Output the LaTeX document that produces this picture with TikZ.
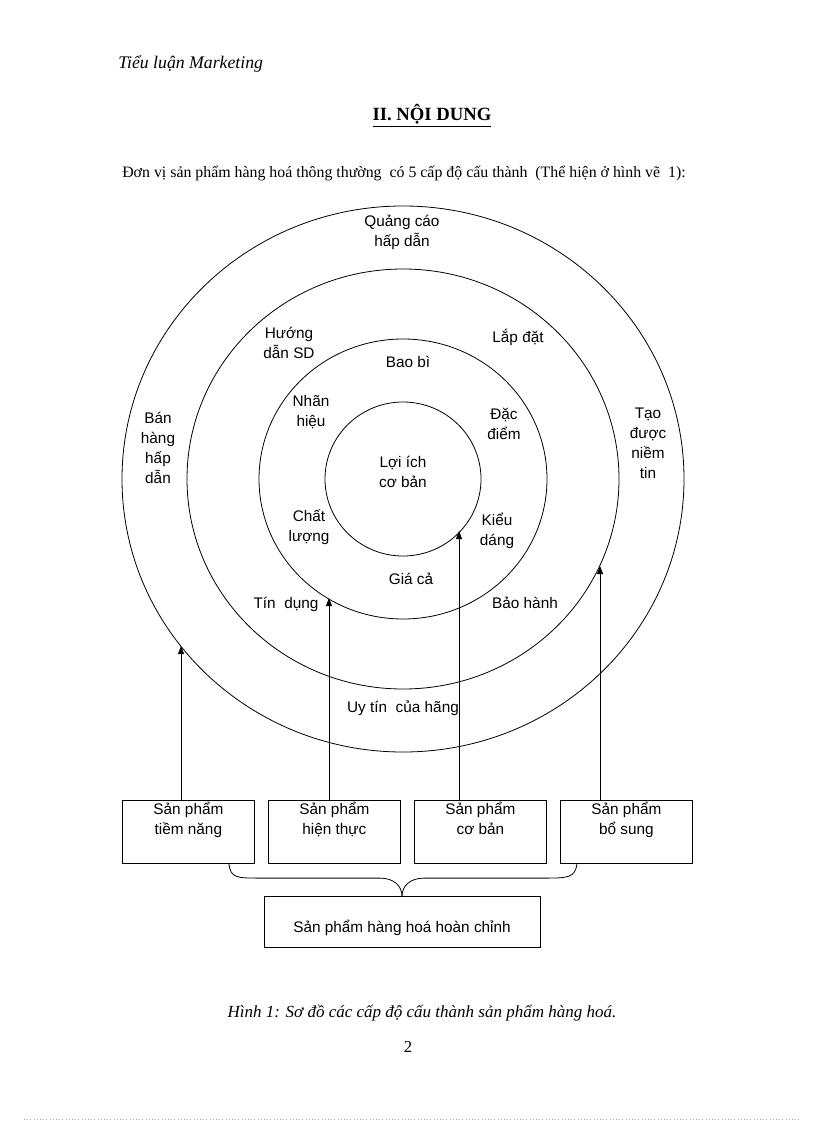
\documentclass[tikz,border=0pt]{standalone}
\usepackage{fontspec}
\setmainfont{Liberation Serif}
\newfontfamily\arialfont{Liberation Sans}
\usetikzlibrary{arrows.meta,calc}
\newcommand\boxtext[1]{\parbox[t][47.25pt][t]{99pt}{\centering\vspace*{1.5pt}#1}}

\tikzset{
	ring/.style={line width=0.6pt},
	lbl/.style={font=\arialfont\fontsize{11.5}{15}\selectfont, align=center, inner sep=0pt},
	pbox/.style={draw, line width=0.6pt, inner sep=0pt, anchor=north west, font=\arialfont\fontsize{11.5}{15}\selectfont},
	up/.style={-{Triangle[length=6pt,width=4.5pt]}, line width=0.6pt},
}

\begin{document}
\begin{tikzpicture}[x=0.75pt,y=-0.75pt]
				\useasboundingbox (0,0) rectangle (816,1123);
				
				\node[anchor=base west, inner sep=0pt, font=\fontsize{13.3}{15}\selectfont\itshape] (header) at (118,69) {Tiểu luận Marketing};
				\node[anchor=base, inner sep=0pt, font=\fontsize{14}{16}\selectfont\bfseries] (title) at (432,121) {\underline{II. NỘI DUNG}};
				\node[anchor=base west, inner sep=0pt, font=\fontsize{11.9}{14}\selectfont] (intro) at (122,178) {Đơn vị sản phẩm hàng hoá thông thường\ \ có 5 cấp độ cấu thành\ \ (Thể hiện ở hình vẽ\ \ 1):};
				
				% the five rings
				\coordinate (o) at (403,479);
				\draw[ring] (o) ellipse [x radius=281, y radius=273];
				\draw[ring] (o) ellipse [x radius=216, y radius=210];
				\draw[ring] (o) ellipse [x radius=144, y radius=140];
				\draw[ring] (o) ellipse [x radius=78, y radius=77];
				
				\node[lbl] (quangcao) at (402,232) {Quảng cáo\\hấp dẫn};
				\node[lbl] (huongdan) at (289,343) {Hướng\\dẫn SD};
				\node[lbl] (lapdat) at (518,337) {Lắp đặt};
				\node[lbl] (baobi) at (408,362) {Bao bì};
				\node[lbl] (nhanhieu) at (311,412) {Nhãn\\hiệu};
				\node[lbl] (dacdiem) at (504,424) {Đặc\\điểm};
				\node[lbl] (banhang) at (158,448) {Bán\\hàng\\hấp\\dẫn};
				\node[lbl] (taoniemtin) at (648,443) {Tạo\\được\\niềm\\tin};
				\node[lbl] (loiich) at (403,472) {Lợi ích\\cơ bản};
				\node[lbl] (chatluong) at (309,527) {Chất\\lượng};
				\node[lbl] (kieudang) at (497,531) {Kiểu\\dáng};
				\node[lbl] (giaca) at (411,579) {Giá cả};
				\node[lbl] (tindung) at (286,604) {Tín\ \ dụng};
				\node[lbl] (baohanh) at (525,603) {Bảo hành};
				\node[lbl] (uytin) at (403,708) {Uy tín\ \ của hãng};
				
				% boxes
				\node[pbox] (b1) at (122,800) {\boxtext{Sản phẩm\\tiềm năng}};
				\node[pbox] (b2) at (268,800) {\boxtext{Sản phẩm\\hiện thực}};
				\node[pbox] (b3) at (414,800) {\boxtext{Sản phẩm\\cơ bản}};
				\node[pbox] (b4) at (560,800) {\boxtext{Sản phẩm\\bổ sung}};
				\node[draw, ring, lbl, text height=15pt, text depth=0pt, minimum width=207pt, minimum height=38.25pt] (all) at (402,922) {Sản phẩm hàng hoá hoàn chỉnh};
				
				\coordinate (t1) at (181,646);
				\coordinate (t2) at (329,598);
				\coordinate (t3) at (459,531);
				\coordinate (t4) at (600,566);
				\draw[up] (b1.north -| t1) -- (t1);
				\draw[up] (b2.north -| t2) -- (t2);
				\draw[up] (b3.north -| t3) -- (t3);
				\draw[up] (b4.north -| t4) -- (t4);
				
				% brace
				\draw[ring] ($(b1.south east)+(-26,0)$) .. controls +(2,14) and +(-24,0) .. ($(all.north)+(-142,-18)$) -- ($(all.north)+(-22,-18)$) .. controls +(14,0) and +(0,-10) .. (all.north);
				\draw[ring] ($(b4.south west)+(17,0)$) .. controls +(-2,14) and +(24,0) .. ($(all.north)+(142,-18)$) -- ($(all.north)+(22,-18)$) .. controls +(-14,0) and +(0,-10) .. (all.north);
				
				\node[anchor=base, inner sep=0pt, font=\fontsize{12.75}{14}\selectfont\itshape] (caption) at (422,1017) {Hình 1: Sơ đồ các cấp độ cấu thành sản phẩm hàng hoá.};
				\node[anchor=base, inner sep=0pt, font=\fontsize{12.5}{14}\selectfont] (pageno) at (408,1052) {2};
				
				\draw[black!30, dotted] (24,1119) -- (800,1119);
			\end{tikzpicture}
\end{document}
